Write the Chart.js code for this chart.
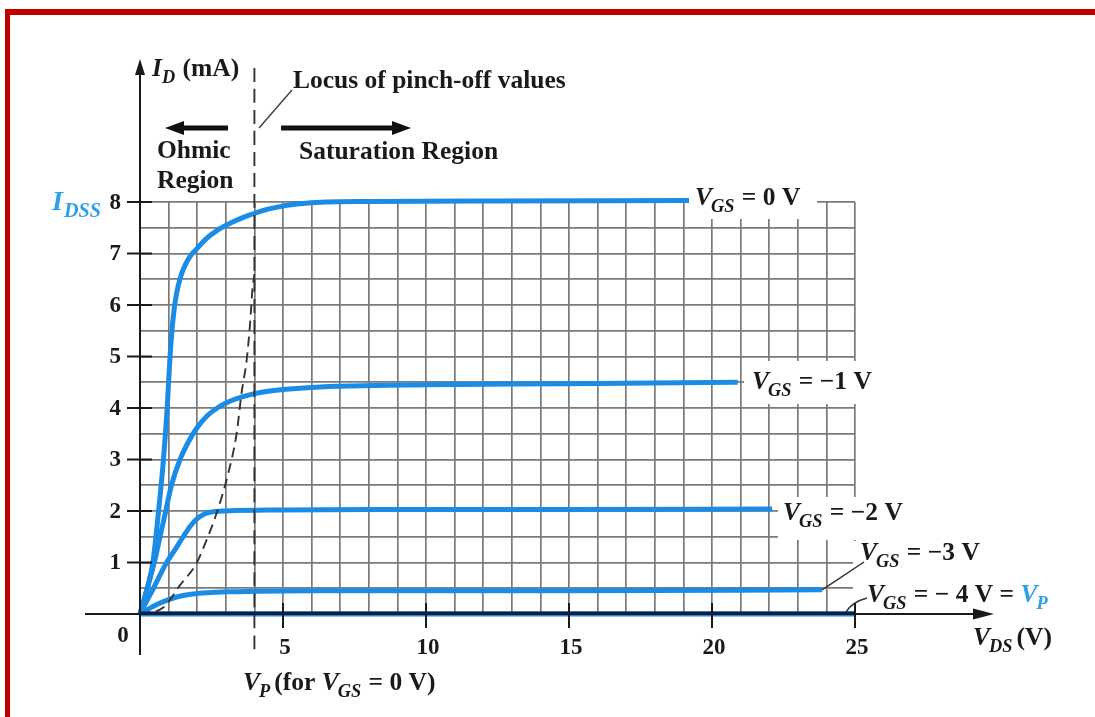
<!DOCTYPE html>
<html><head><meta charset="utf-8">
<script src="https://cdn.jsdelivr.net/npm/chart.js@4.4.1/dist/chart.umd.min.js"></script>
<style>
html,body{margin:0;padding:0;background:#fff;}
#wrap{position:relative;width:1095px;height:717px;overflow:hidden;background:#fff;}
#frame{position:absolute;left:5px;top:9px;width:1200px;height:800px;border-left:5px solid #c00000;border-top:6px solid #c00000;box-sizing:border-box;}
canvas{position:absolute;left:0;top:0;}
</style></head>
<body><div id="wrap"><canvas id="c" width="1095" height="717"></canvas><div id="frame"></div></div>
<script>
// ---- data (V_DS in volts, I_D in mA) ----
const vds_VGS0  = [0, 0.25, 0.45, 0.65, 0.82, 0.95, 1.05, 1.15, 1.27, 1.42, 1.6, 1.8, 2.0, 2.3, 2.7, 3.2, 3.7, 4.2, 4.8, 5.5, 6.5, 8.0, 12.0, 19.2];
const id_VGS0   = [0, 0.5, 1.0, 2.0, 3.0, 4.0, 5.0, 5.7, 6.2, 6.55, 6.8, 6.98, 7.1, 7.28, 7.45, 7.6, 7.72, 7.82, 7.9, 7.96, 8.0, 8.01, 8.02, 8.03];
const vds_VGSm1 = [0, 0.5, 0.7, 0.9, 1.1, 1.4, 1.7, 2.0, 2.35, 2.7, 3.1, 3.6, 4.2, 5.0, 6.0, 10.0, 15.0, 20.9];
const id_VGSm1  = [0, 1.0, 1.5, 2.0, 2.5, 3.0, 3.35, 3.62, 3.85, 4.0, 4.12, 4.22, 4.3, 4.36, 4.4, 4.45, 4.47, 4.5];
const vds_VGSm2 = [0, 0.47, 0.93, 1.25, 1.51, 1.75, 2.0, 2.25, 2.5, 3.0, 5.0, 8.0, 15.0, 22.1];
const id_VGSm2  = [0, 0.5, 1.0, 1.27, 1.5, 1.7, 1.85, 1.94, 1.98, 2.0, 2.02, 2.03, 2.03, 2.04];
const vds_VGSm3 = [0, 0.5, 1.0, 1.5, 2.0, 3.0, 4.0, 6.0, 15.0, 23.85];
const id_VGSm3  = [0, 0.16, 0.28, 0.36, 0.40, 0.43, 0.44, 0.45, 0.45, 0.47];
const vds_VGSm4 = [0, 25];
const id_VGSm4  = [0, 0];
const vds_locus = [0, 0.8, 1.4, 1.98, 2.33, 2.68, 3.09, 3.38, 3.55, 3.73, 3.85, 3.93, 4.0];
const id_locus  = [0, 0.12, 0.56, 0.99, 1.44, 1.96, 2.74, 3.51, 4.29, 4.93, 5.65, 6.29, 6.6];
const vds_VPline = [4, 4];
const id_VPline  = [10.6, -0.8];
const xTickValues = [5, 10, 15, 20, 25];
const yTickValues = [1, 2, 3, 4, 5, 6, 7, 8];

const BLUE = '#1b8ce6';
const LBLUE = '#2e9ee8';
const FONT = '"Liberation Serif","Times New Roman",serif';

function pts(xs, ys){ return xs.map((x,i)=>({x:x, y:ys[i]})); }
function curve(xs, ys){
  return {data:pts(xs,ys), showLine:true, pointRadius:0, borderColor:BLUE, borderWidth:5,
          cubicInterpolationMode:'monotone', fill:false, clip:false, order:2, borderCapStyle:'butt'};
}
function dashed(xs, ys, dash){
  return {data:pts(xs,ys), showLine:true, pointRadius:0, borderColor:'#333', borderWidth:1.9,
          borderDash:dash, cubicInterpolationMode:'monotone', fill:false, clip:false, order:0};
}

function segFont(s, F){ const size = s.s ? F*0.72 : F; return (s.i?'italic ':'') + 'bold ' + size + 'px ' + FONT; }
function measureRich(ctx, segs, F){ let w=0; for(const s of segs){ ctx.font=segFont(s,F); w+=ctx.measureText(s.t).width+(s.k||0);} return w; }
function drawRich(ctx, x, y, segs, F, align, color){
  const w = measureRich(ctx, segs, F);
  let cx = align==='center' ? x-w/2 : align==='right' ? x-w : x;
  ctx.textAlign='left'; ctx.textBaseline='alphabetic';
  for(const s of segs){
    ctx.font = segFont(s,F); ctx.fillStyle = s.c || color || '#1a1a1a';
    ctx.fillText(s.t, cx, y + (s.s ? F*0.26 : 0));
    cx += ctx.measureText(s.t).width + (s.k||0);
  }
  return w;
}
function vgs(rest, extra){
  const a = [{t:'V', i:true, k:-1}, {t:'GS', i:true, s:true, k:1}, {t:rest}];
  return extra ? a.concat(extra) : a;
}

const annot = {
  id:'annot',
  afterDatasetsDraw(chart){
    const ctx = chart.ctx, xs = chart.scales.x, ys = chart.scales.y;
    const X = v => xs.getPixelForValue(v), Y = v => ys.getPixelForValue(v);
    ctx.save();
    // curve labels (white backing boxes hide the grid)
    const F = 25.5;
    const labels = [
      {segs:vgs(' = 0 V'), x:695, y:205, box:[689,180,128,39]},
      {segs:vgs(' = \u22121 V'), x:752, y:389, box:[744,361,130,43]},
      {segs:vgs(' = \u22122 V'), x:783, y:520, box:[778,497,130,43]},
      {segs:vgs(' = \u22123 V'), x:860, y:560, box:[853,541,125,39]},
      {segs:vgs(' = \u2212 4 V = ', [{t:'V', i:true, c:LBLUE, k:-1},{t:'P', i:true, s:true, c:LBLUE}]), x:867, y:602, box:[853,580,200,31]}
    ];
    ctx.fillStyle = '#fff';
    for(const l of labels){ ctx.fillRect(l.box[0], l.box[1], l.box[2], l.box[3]); }

    // axes
    ctx.strokeStyle = '#1a1a1a'; ctx.lineWidth = 2;
    ctx.beginPath(); ctx.moveTo(X(0), 655); ctx.lineTo(X(0), 72); ctx.stroke();
    ctx.beginPath(); ctx.moveTo(85, Y(0)); ctx.lineTo(980, Y(0)); ctx.stroke();
    ctx.fillStyle = '#1a1a1a';
    ctx.beginPath(); ctx.moveTo(X(0), 59); ctx.lineTo(X(0)-5, 75); ctx.lineTo(X(0)+5, 75); ctx.closePath(); ctx.fill();
    ctx.beginPath(); ctx.moveTo(994, Y(0)); ctx.lineTo(973, Y(0)-5.5); ctx.lineTo(973, Y(0)+5.5); ctx.closePath(); ctx.fill();
    ctx.strokeStyle = '#0d1f45'; ctx.lineWidth = 3;
    ctx.beginPath(); ctx.moveTo(X(0), Y(0)-1); ctx.lineTo(X(25), Y(0)-1); ctx.stroke();

    // ticks
    ctx.strokeStyle = '#1a1a1a'; ctx.lineWidth = 2;
    for(const v of yTickValues){ ctx.beginPath(); ctx.moveTo(127, Y(v)); ctx.lineTo(152, Y(v)); ctx.stroke(); }
    for(const v of xTickValues){ ctx.beginPath(); ctx.moveTo(X(v), 603); ctx.lineTo(X(v), 628); ctx.stroke(); }

    // tick labels
    ctx.fillStyle = '#1a1a1a'; ctx.font = 'bold 23px ' + FONT;
    ctx.textBaseline = 'middle'; ctx.textAlign = 'right';
    for(const v of yTickValues){ ctx.fillText(String(v), 121, Y(v)+1); }
    ctx.textAlign = 'center';
    for(const v of xTickValues){ ctx.fillText(String(v), X(v)+2, 648); }
    ctx.fillText('0', 123, 636);

    // curve label texts
    for(const l of labels){ drawRich(ctx, l.x, l.y, l.segs, F, 'left'); }

    // leader lines for -3 and -4
    ctx.strokeStyle = '#333'; ctx.lineWidth = 1.5;
    ctx.beginPath(); ctx.moveTo(X(23.85), Y(0.47)); ctx.lineTo(864, 562); ctx.stroke();
    ctx.beginPath(); ctx.moveTo(846, 612); ctx.quadraticCurveTo(852, 602, 867, 598); ctx.stroke();

    // axis titles
    drawRich(ctx, 152, 76, [{t:'I', i:true},{t:'D', i:true, s:true, k:1},{t:' (mA)'}], 25.5, 'left');
    drawRich(ctx, 973, 645, [{t:'V', i:true, k:-1},{t:'DS', i:true, s:true, k:4},{t:'(V)'}], 25.5, 'left');
    drawRich(ctx, 52, 210, [{t:'I', i:true, k:1},{t:'DSS', i:true, s:true}], 28, 'left', LBLUE);
    drawRich(ctx, 243, 690, [{t:'V', i:true, k:-1},{t:'P', i:true, s:true, k:4},{t:'(for '},{t:'V', i:true, k:-1},{t:'GS', i:true, s:true, k:1},{t:' = 0 V)'}], 25.5, 'left');

    // region annotations
    ctx.fillStyle = '#1a1a1a'; ctx.font = 'bold 25.5px ' + FONT; ctx.textAlign = 'left'; ctx.textBaseline = 'alphabetic';
    ctx.fillText('Locus of pinch-off values', 293, 88);
    ctx.fillText('Ohmic', 157, 158);
    ctx.fillText('Region', 157, 188);
    ctx.fillText('Saturation Region', 299, 159);
    ctx.strokeStyle = '#444'; ctx.lineWidth = 1.5;
    ctx.beginPath(); ctx.moveTo(292, 90); ctx.lineTo(259, 128); ctx.stroke();
    // region arrows
    ctx.strokeStyle = '#111'; ctx.fillStyle = '#111'; ctx.lineWidth = 5;
    ctx.beginPath(); ctx.moveTo(228, 128); ctx.lineTo(180, 128); ctx.stroke();
    ctx.beginPath(); ctx.moveTo(165, 128); ctx.lineTo(184, 121); ctx.lineTo(184, 135); ctx.closePath(); ctx.fill();
    ctx.beginPath(); ctx.moveTo(281, 128); ctx.lineTo(395, 128); ctx.stroke();
    ctx.beginPath(); ctx.moveTo(411, 128); ctx.lineTo(392, 121); ctx.lineTo(392, 135); ctx.closePath(); ctx.fill();
    ctx.restore();
  }
};

const gridStyle = {color:'#7a7a7a', lineWidth:1.7, drawTicks:false};
new Chart(document.getElementById('c').getContext('2d'), {
  type:'scatter',
  data:{datasets:[
    dashed(vds_locus, id_locus, [10,6]),
    dashed(vds_VPline, id_VPline, [14,7]),
    curve(vds_VGS0, id_VGS0),
    curve(vds_VGSm1, id_VGSm1),
    curve(vds_VGSm2, id_VGSm2),
    curve(vds_VGSm3, id_VGSm3),
    curve(vds_VGSm4, id_VGSm4)
  ]},
  options:{
    responsive:false, animation:false, devicePixelRatio:1,
    layout:{padding:{left:140, right:240, top:202, bottom:103}},
    plugins:{legend:{display:false}, tooltip:{enabled:false}},
    scales:{
      x:{type:'linear', min:0, max:25, ticks:{display:false, stepSize:1}, grid:gridStyle, border:{display:false},
         afterFit(s){ s.height = 0; }},
      y:{type:'linear', min:0, max:8, ticks:{display:false, stepSize:0.5}, grid:gridStyle, border:{display:false},
         afterFit(s){ s.width = 0; }}
    }
  },
  plugins:[annot]
});
</script>
</body></html>
